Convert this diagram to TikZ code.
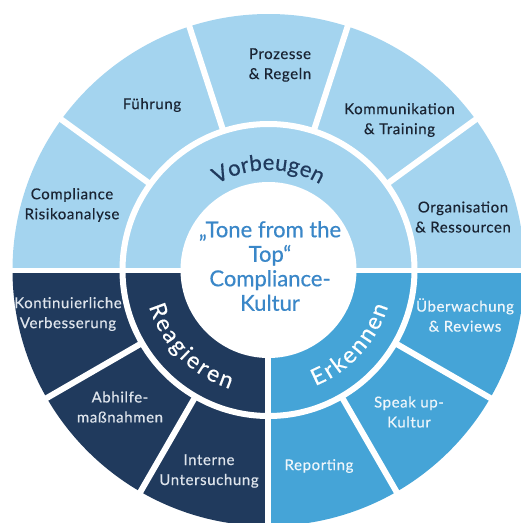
\documentclass[tikz,border=0pt]{standalone}
\usepackage{fontspec}
\setmainfont{Lato}
\usetikzlibrary{decorations.text}
\definecolor{lightb}{RGB}{164,212,239}
\definecolor{midb}{RGB}{69,164,215}
\definecolor{navyb}{RGB}{32,58,93}
\definecolor{ctxt}{RGB}{58,135,200}
\definecolor{dtxt}{RGB}{26,36,51}
\definecolor{ltxt}{RGB}{222,228,236}
\definecolor{wtxt}{RGB}{238,246,251}
\begin{document}
\begin{tikzpicture}[x=1pt,y=1pt,
  lab/.style={align=center, inner sep=0pt, font=\fontsize{15}{20}\selectfont\addfontfeature{LetterSpace=4,FakeBold=0.4}},
  gap/.style={white, line width=6pt},
  arctext/.style={decorate, decoration={text along path, text align=fit to path, text color=#1}}]
\useasboundingbox (-268.5,-253) rectangle (252.5,270);
\begin{scope}
\clip (-268.5,-253) rectangle (252.5,270);
\fill[lightb] (0,0) -- (0:256) arc[start angle=0,end angle=180,radius=256] -- cycle;
\fill[navyb] (0,0) -- (180:256) arc[start angle=180,end angle=270,radius=256] -- cycle;
\fill[midb] (0,0) -- (270:256) arc[start angle=270,end angle=360,radius=256] -- cycle;
\draw[white, line width=6pt] (0,0) circle[radius=146];
\foreach \a in {36,72,108,144,210,240,300,330} \draw[gap] (\a:146) -- (\a:262);
\draw[white, line width=5pt] (-270,0) -- (260,0);
\draw[gap] (0,0) -- (0,-262);
\fill[white] (0,0) circle[radius=88];
\end{scope}
% curved ring labels
\path[arctext=navyb, decoration={text={|\fontsize{22}{26}\selectfont\addfontfeature{FakeBold=0.5}|Vorbeugen}}]
  (121:100) arc[start angle=121, end angle=59, radius=100];
\path[arctext=white, decoration={text={|\fontsize{23}{26}\selectfont\addfontfeature{FakeBold=0.4}|Reagieren}}]
  (197:125) arc[start angle=197, end angle=252, radius=125];
\path[arctext=white, decoration={text={|\fontsize{23}{26}\selectfont\addfontfeature{FakeBold=0.4}|Erkennen}}]
  (292:125) arc[start angle=292, end angle=343, radius=125];
% centre
\node[ctxt, align=center, font=\fontsize{22}{24.5}\selectfont\addfontfeature{FakeBold=0.5}] (centre) at (1.5,4) {„Tone from the\\Top“\\Compliance-\\Kultur};
% outer labels
\node[lab, text=dtxt] (risk) at (-196.5,65) {Compliance\\Risikoanalyse};
\node[lab, text=dtxt] (fuehr) at (-116.5,165) {Führung};
\node[lab, text=dtxt] (proz) at (11.5,205) {Prozesse\\\& Regeln};
\node[lab, text=dtxt] (komm) at (131,150) {Kommunikation\\\& Training};
\node[lab, text=dtxt] (orga) at (194.5,53) {Organisation\\\& Ressourcen};
\node[lab, text=ltxt] (kont) at (-200.5,-44) {Kontinuierliche\\Verbesserung};
\node[lab, text=ltxt] (abh) at (-148.5,-137) {Abhilfe-\\maßnahmen};
\node[lab, text=ltxt] (intu) at (-59.5,-201) {Interne\\Untersuchung};
\node[lab, text=wtxt] (uebw) at (196.5,-45) {Überwachung\\\& Reviews};
\node[lab, text=wtxt] (speak) at (140.5,-142) {Speak up-\\Kultur};
\node[lab, text=wtxt] (rep) at (50.5,-196) {Reporting};
\end{tikzpicture}
\end{document}
